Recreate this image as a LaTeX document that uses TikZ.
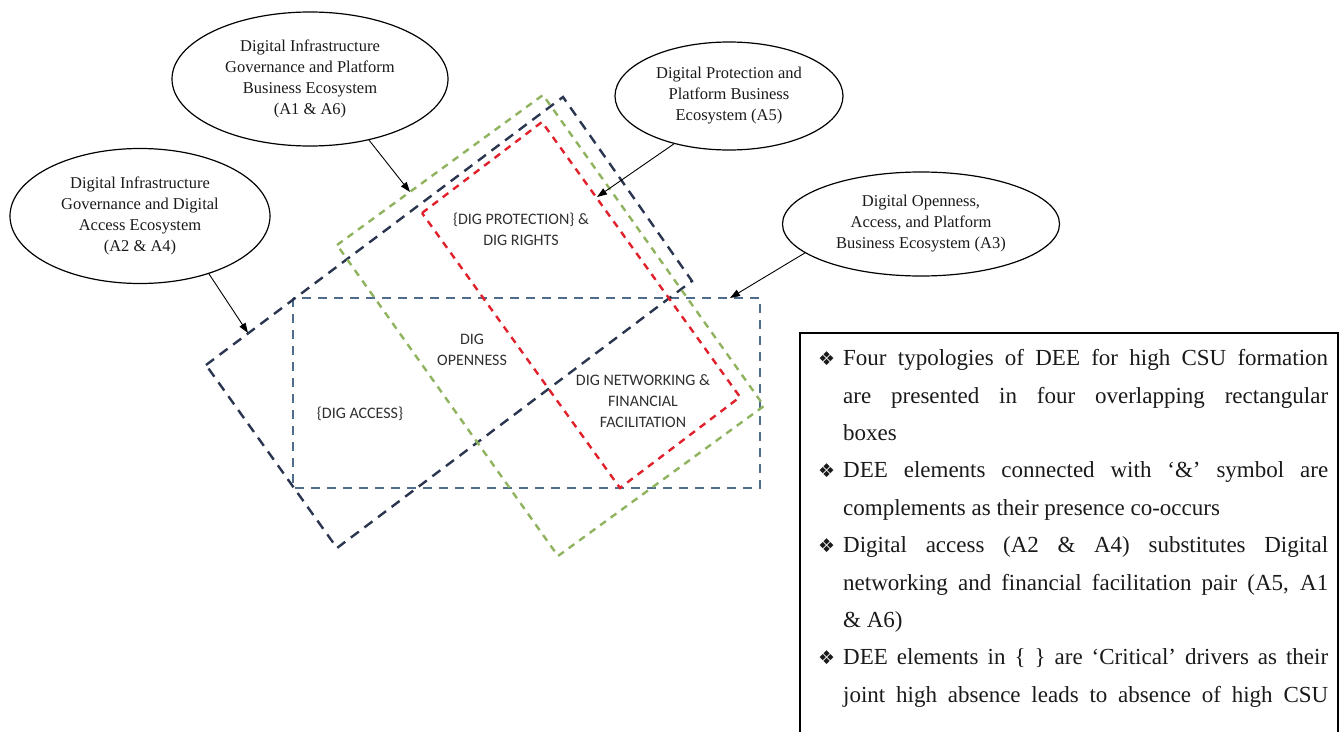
\documentclass[tikz,border=0pt]{standalone}
\usepackage{fontspec}
\setmainfont{Liberation Serif}
\newfontfamily\lblfont{Carlito}
\newfontfamily\symfont{DejaVu Sans}
\usetikzlibrary{shapes.geometric,arrows.meta}
\definecolor{boxblue}{HTML}{4E6D8E}
\definecolor{boxnavy}{HTML}{2A3550}
\definecolor{boxgreen}{HTML}{8FB35E}
\definecolor{boxred}{HTML}{E0212B}
\definecolor{inktxt}{HTML}{1A1A1A}
\definecolor{lbltxt}{HTML}{303030}
\newcommand\dimitem{\par\noindent\hangindent=25pt\hangafter=1\makebox[25pt][l]{\symfont\fontsize{19}{19}\selectfont ❖}}
\tikzset{
  eco/.style={ellipse, draw=black, line width=1.2pt, inner sep=0pt, align=center, text=inktxt, font=\fontsize{16.5}{21}\selectfont},
  pointer/.style={-{Triangle[length=10pt,width=7pt]}, line width=0.9pt, draw=black},
  typbox/.style={line width=2.4pt},
  lbl/.style={align=center, text=lbltxt, font=\lblfont\fontsize{16}{21}\selectfont, inner sep=0pt},
  legendtext/.style={anchor=north west, inner sep=0pt, text width=510pt, align=justify, text=inktxt, font=\fontsize{23}{37.4}\selectfont},
}
\begin{document}
\begin{tikzpicture}[x=1pt,y=-1pt]
\useasboundingbox (0,0) rectangle (1341,731);
\clip (0,0) rectangle (1341,731);
% typology boxes
\draw[typbox, boxblue, dash pattern=on 9pt off 7pt] (293,298) rectangle (760,488);
\draw[typbox, boxnavy, dash pattern=on 10pt off 7pt] (206,365) -- (563,97) -- (692,281) -- (337,548) -- cycle;
\draw[typbox, boxgreen, dash pattern=on 7pt off 6pt] (337,245) -- (543,95) -- (764,406) -- (558,556) -- cycle;
\draw[typbox, boxred, dash pattern=on 7pt off 6pt] (422,213) -- (542,122) -- (740,397) -- (620,488) -- cycle;
% box labels
\node[lbl] (prot) at (521,229) {\{DIG PROTECTION\} \&\\DIG RIGHTS};
\node[lbl] (open) at (472,350) {DIG\\OPENNESS};
\node[lbl] (acc) at (360,414) {\{DIG ACCESS\}};
\node[lbl] (netw) at (643,401) {DIG NETWORKING \&\\FINANCIAL\\FACILITATION};
% ecosystems
\node[eco, minimum width=276pt, minimum height=134pt] (e1) at (310,79) {Digital Infrastructure\\Governance and Platform\\Business Ecosystem\\(A1 \& A6)};
\node[eco, minimum width=260pt, minimum height=135pt] (e2) at (140,216) {Digital Infrastructure\\Governance and Digital\\Access Ecosystem\\(A2 \& A4)};
\node[eco, minimum width=228pt, minimum height=108pt] (e3) at (729,96) {Digital Protection and\\Platform Business\\Ecosystem (A5)};
\node[eco, minimum width=277pt, minimum height=104pt] (e4) at (921,224) {Digital Openness,\\Access, and Platform\\Business Ecosystem (A3)};
% arrow tips on the boxes
\coordinate (t1) at (410,192);
\coordinate (t2) at (248,333);
\coordinate (t3) at (597,197);
\coordinate (t4) at (730,298);
\draw[pointer] (e1.-46) -- (t1);
\draw[pointer] (e2.-40) -- (t2);
\draw[pointer] (e3.-139) -- (t3);
\draw[pointer] (e4.-166) -- (t4);
% legend
\coordinate (lgbl) at (800,745);
\coordinate (lgtl) at (800,333);
\coordinate (lgtr) at (1338,333);
\coordinate (lgbr) at (1338,745);
\draw[line width=1.3pt, black] (lgbl) -- (lgtl) -- (lgtr) -- (lgbr);
\node[legendtext] (legend) at (818,328) {%
\dimitem Four typologies of DEE for high CSU formation\linebreak are presented in four overlapping rectangular\linebreak boxes
\dimitem DEE elements connected with ‘\&’ symbol are\linebreak complements as their presence co-occurs
\dimitem Digital access (A2 \& A4) substitutes Digital\linebreak networking and financial facilitation pair (A5, A1\linebreak \& A6)
\dimitem DEE elements in \{ \} are ‘Critical’ drivers as their\linebreak joint high absence leads to absence of high CSU\parfillskip=0pt\par};
\end{tikzpicture}
\end{document}
